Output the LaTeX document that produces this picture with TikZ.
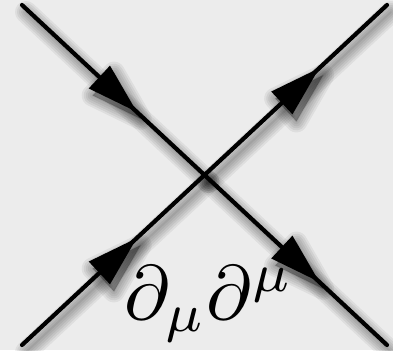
\documentclass[tikz,border=0pt]{standalone}
\usepackage{amsmath,amssymb}
\usepackage{xcolor}
\usetikzlibrary{decorations.markings}
\definecolor{bggray}{RGB}{236,236,236}
\tikzset{
  fermion/.style ={line width=2.1pt, line cap=round, postaction={decorate},
    decoration={markings, mark=at position 0.63 with {\fill (0,0) -- (-25.5pt,7.8pt) -- (-25.5pt,-7.8pt) -- cycle;}}},
  shadowline/.style ={line width=#1, line cap=round, black, opacity=.06, postaction={decorate},
    decoration={markings, mark=at position 0.63 with {\filldraw[black, opacity=.06, line width=#1, line join=round] (0,0) -- (-25.5pt,7.8pt) -- (-25.5pt,-7.8pt) -- cycle;}}},
  lbl/.style ={scale=3.85, inner sep=0pt},
}
\begin{document}
\begin{tikzpicture}[x=0.5pt, y=-0.5pt]
  \fill[bggray] (0,0) rectangle (393,350);
  \useasboundingbox (0,0) rectangle (393,350);
  % external legs and the vertex
  \coordinate (tl) at (22,5);
  \coordinate (br) at (387,345);
  \coordinate (bl) at (22,345);
  \coordinate (tr) at (387,5);
  \coordinate (v) at (204.5,175);
  % soft drop shadow
  \begin{scope}[transform canvas={shift={(4,7)}}]
    \foreach \w in {1pt,3pt,5pt,7pt,9pt,11pt}{
      \foreach \s/\e in {tl/v, v/br, bl/v, v/tr}
        \draw[shadowline=\w] (\s) -- (\e);
    }
  \end{scope}
  % fermion lines
  \foreach \s/\e in {tl/v, v/br, bl/v, v/tr}
    \draw[fermion] (\s) -- (\e);
  \node[lbl] (dd) at (209,304) {$\partial_\mu\partial^\mu$};
\end{tikzpicture}
\end{document}
